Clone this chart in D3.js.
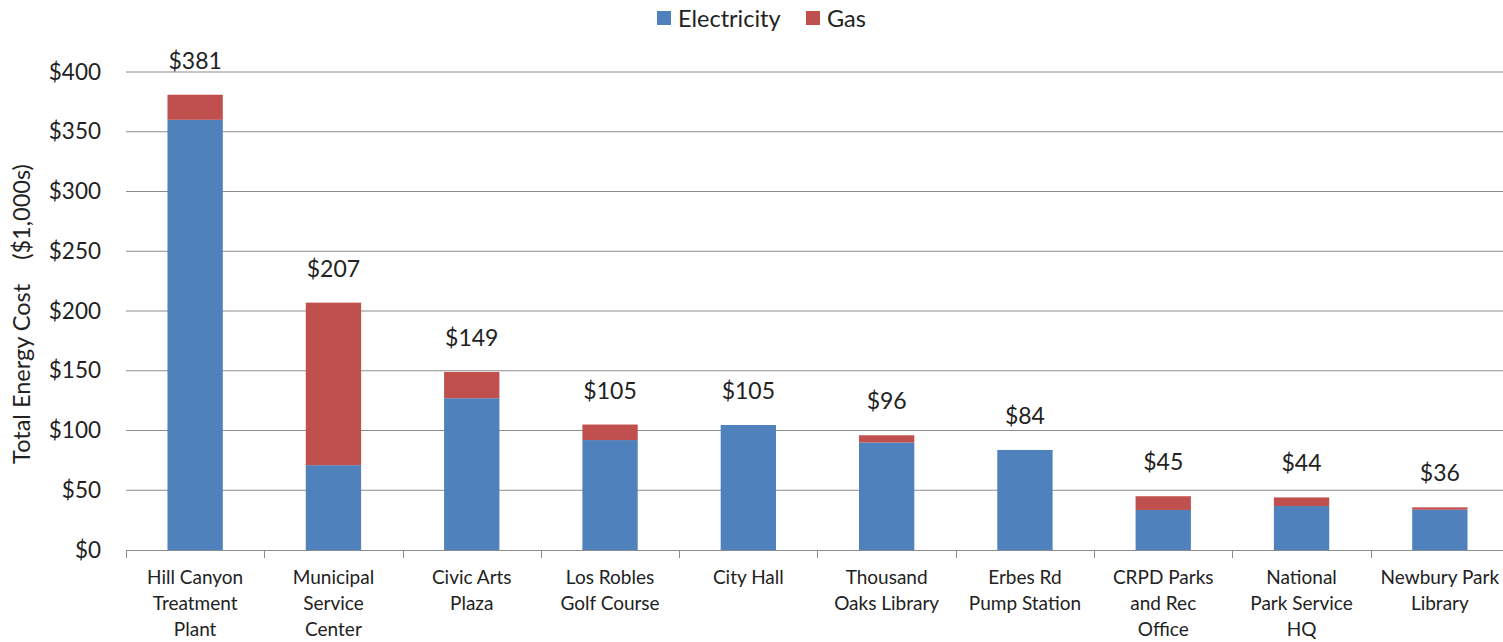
<!DOCTYPE html>
<html>
<head>
<meta charset="utf-8">
<script src="https://cdn.jsdelivr.net/npm/d3@7"></script>
<style>
  body { margin: 0; background: #fff; }
  text { font-family: Lato, "Open Sans", sans-serif; fill: #222; }
</style>
</head>
<body>
<div id="chart"></div>
<script>
const WIDTH = 1503;
const HEIGHT = 642;

const sites = [
    ["Hill Canyon", "Treatment", "Plant"],
    ["Municipal", "Service", "Center"],
    ["Civic Arts", "Plaza"],
    ["Los Robles", "Golf Course"],
    ["City Hall"],
    ["Thousand", "Oaks Library"],
    ["Erbes Rd", "Pump Station"],
    ["CRPD Parks", "and Rec", "Office"],
    ["National", "Park Service", "HQ"],
    ["Newbury Park", "Library"]
];
const electricity = [360, 71, 127, 92, 104.6, 90, 83.7, 33.5, 36.8, 33.7];
const gas = [21, 136, 22, 13, 0, 6, 0, 11.5, 7.2, 2];
const totals = [381, 207, 149, 105, 105, 96, 84, 45, 44, 36];
const yTicks = [0, 50, 100, 150, 200, 250, 300, 350, 400];
const seriesNames = ["Electricity", "Gas"];
const colors = ["#4F81BD", "#C0504D"];

const margin = {left: 126, right: -6, top: 72, bottom: 92};

function setup(){
    let svg = d3.select("#chart")
        .append("svg")
        .attr("width", WIDTH)
        .attr("height", HEIGHT);

    let keys = sites.map((d, i) => "s" + i);
    let x = d3.scaleBand()
        .domain(keys)
        .range([margin.left, WIDTH - margin.right])
        .paddingInner(0.6)
        .paddingOuter(0.3);
    let y = d3.scaleLinear()
        .domain([0, 400])
        .range([HEIGHT - margin.bottom, margin.top]);

    // gridlines
    svg.append("g")
        .selectAll("line")
        .data(yTicks.slice(1))
        .enter()
        .append("line")
        .attr("x1", margin.left)
        .attr("x2", WIDTH)
        .attr("y1", d => y(d))
        .attr("y2", d => y(d))
        .style("stroke", "#8c8c8c")
        .style("stroke-width", 1);

    // y labels
    let yAxis = d3.axisLeft(y).tickValues(yTicks).tickFormat(d => "$" + d).tickSize(0).tickPadding(25);
    let yg = svg.append("g").attr("transform", "translate(" + margin.left + ",0)").call(yAxis);
    yg.select(".domain").remove();
    yg.selectAll("text").style("font-size", "22.5px").style("fill", "#222");

    // stacked bars
    let table = keys.map((k, i) => ({key: k, Electricity: electricity[i], Gas: gas[i]}));
    let stack = d3.stack().keys(seriesNames)(table);
    svg.append("g")
        .selectAll("g")
        .data(stack)
        .enter()
        .append("g")
        .style("fill", (d, i) => colors[i])
        .selectAll("rect")
        .data(d => d)
        .enter()
        .append("rect")
        .attr("x", d => x(d.data.key))
        .attr("width", x.bandwidth())
        .attr("y", d => y(d[1]))
        .attr("height", d => y(d[0]) - y(d[1]));

    // x axis line and category boundary ticks
    let base = y(0);
    svg.append("line")
        .attr("x1", margin.left).attr("x2", WIDTH)
        .attr("y1", base + 0.5).attr("y2", base + 0.5)
        .style("stroke", "#8c8c8c");
    svg.append("g")
        .selectAll("line")
        .data(keys)
        .enter()
        .append("line")
        .attr("x1", d => Math.round(x(d) - x.step() * 0.3) + 0.5)
        .attr("x2", d => Math.round(x(d) - x.step() * 0.3) + 0.5)
        .attr("y1", base)
        .attr("y2", base + 8)
        .style("stroke", "#8c8c8c");

    // category labels
    let cats = svg.append("g")
        .selectAll("text")
        .data(keys)
        .enter()
        .append("text")
        .attr("text-anchor", "middle")
        .style("font-size", "19px")
        .attr("x", d => x(d) + x.bandwidth() / 2)
        .attr("y", base + 34);
    cats.selectAll("tspan")
        .data((d, i) => sites[i])
        .enter()
        .append("tspan")
        .attr("x", function(){ return d3.select(this.parentNode).attr("x"); })
        .attr("dy", (d, j) => j === 0 ? 0 : 26)
        .text(d => d);

    // total labels
    svg.append("g")
        .selectAll("text")
        .data(keys)
        .enter()
        .append("text")
        .attr("text-anchor", "middle")
        .style("font-size", "23px")
        .attr("x", d => x(d) + x.bandwidth() / 2)
        .attr("y", (d, i) => y(electricity[i] + gas[i]) - 26)
        .text((d, i) => "$" + totals[i]);

    // y title
    svg.append("text")
        .attr("transform", "translate(30," + 314 + ") rotate(-90)")
        .attr("text-anchor", "middle")
        .style("font-size", "23.5px")
        .style("white-space", "pre")
        .text("Total Energy Cost    ($1,000s)");

    // legend
    let legendX = [657, 806];
    let legend = svg.append("g")
        .selectAll("g")
        .data(seriesNames)
        .enter()
        .append("g")
        .attr("transform", (d, i) => "translate(" + legendX[i] + ",11)");
    legend.append("rect")
        .attr("width", 14).attr("height", 14)
        .style("fill", (d, i) => colors[i]);
    legend.append("text")
        .attr("x", 21).attr("y", 16)
        .style("font-size", "23.5px")
        .text(d => d);
}

window.addEventListener("load", setup);
</script>
</body>
</html>
